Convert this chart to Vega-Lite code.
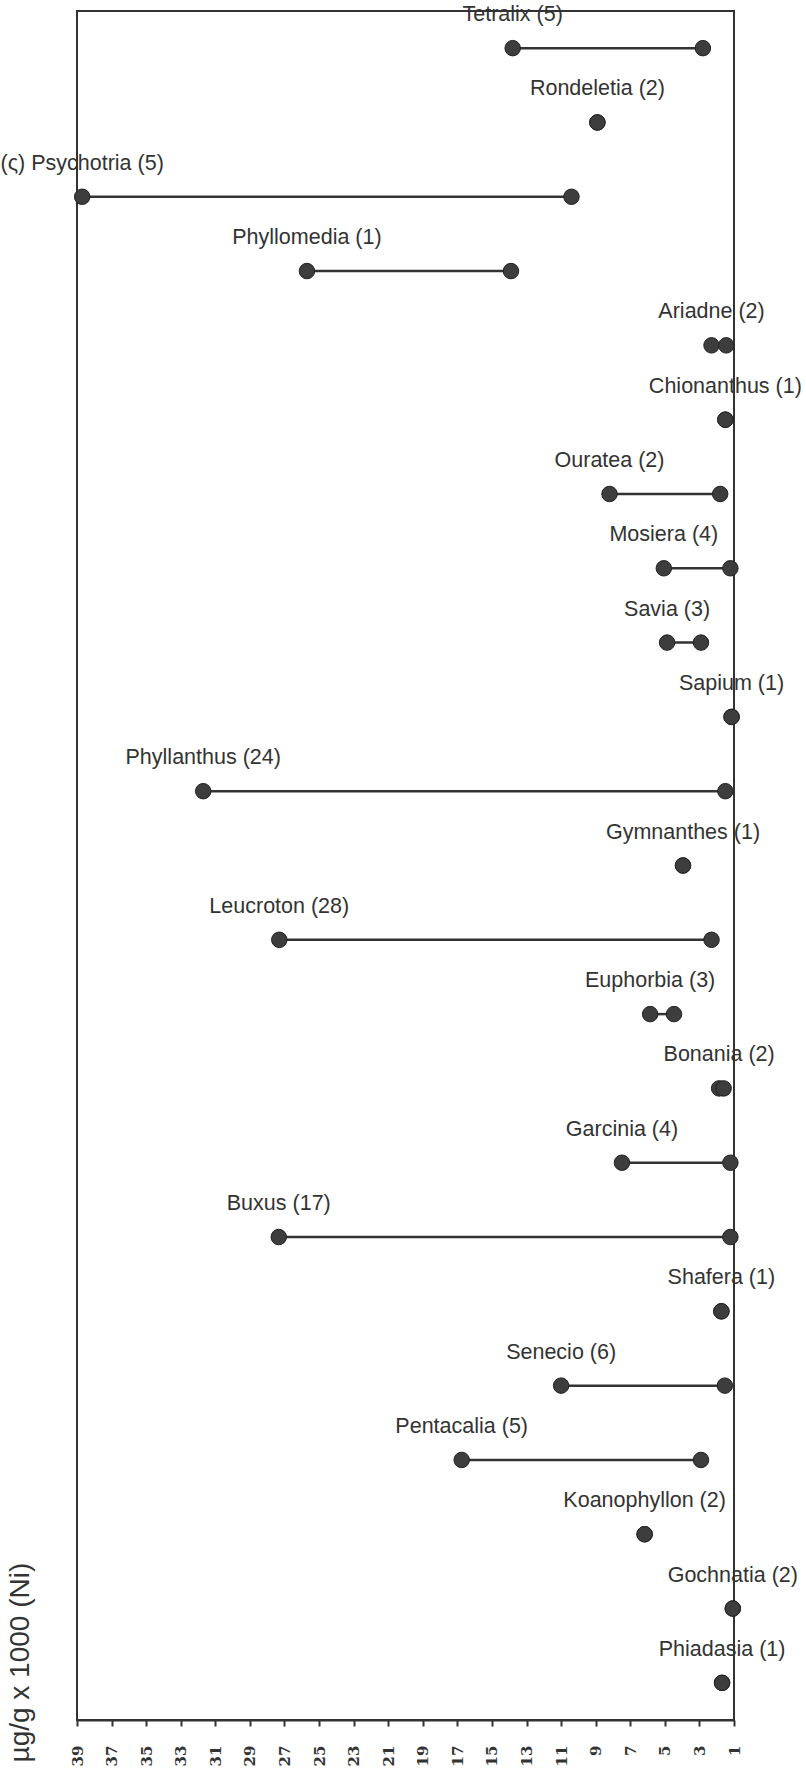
{
  "$schema": "https://vega.github.io/schema/vega-lite/v6.json",
  "width": 657,
  "height": 1709,
  "autosize": {"type": "none"},
  "padding": {"left": 77, "top": 11, "right": 72, "bottom": 49},
  "background": "white",
  "config": {
    "view": {"stroke": "#333333", "strokeWidth": 2},
    "axis": {"labelOverlap": false},
    "axisX": {"labelOverlap": false, "labelBound": false}
  },
  "data": {
    "values": [
      {"label": "Tetralix (5)", "hi": 13.8, "lo": 2.8},
      {"label": "Rondeletia (2)", "hi": 8.9, "lo": 8.9},
      {"label": "(ς) Psychotria (5)", "hi": 38.7, "lo": 10.4},
      {"label": "Phyllomedia (1)", "hi": 25.7, "lo": 13.9},
      {"label": "Ariadne (2)", "hi": 2.3, "lo": 1.45},
      {"label": "Chionanthus (1)", "hi": 1.5, "lo": 1.5},
      {"label": "Ouratea (2)", "hi": 8.2, "lo": 1.8},
      {"label": "Mosiera (4)", "hi": 5.06, "lo": 1.21},
      {"label": "Savia (3)", "hi": 4.87, "lo": 2.91},
      {"label": "Sapium (1)", "hi": 1.14, "lo": 1.14},
      {"label": "Phyllanthus (24)", "hi": 31.7, "lo": 1.5},
      {"label": "Gymnanthes (1)", "hi": 3.95, "lo": 3.95},
      {"label": "Leucroton (28)", "hi": 27.3, "lo": 2.3},
      {"label": "Euphorbia (3)", "hi": 5.85, "lo": 4.47},
      {"label": "Bonania (2)", "hi": 1.86, "lo": 1.6},
      {"label": "Garcinia (4)", "hi": 7.48, "lo": 1.21},
      {"label": "Buxus (17)", "hi": 27.33, "lo": 1.21},
      {"label": "Shafera (1)", "hi": 1.73, "lo": 1.73},
      {"label": "Senecio (6)", "hi": 11.0, "lo": 1.53},
      {"label": "Pentacalia (5)", "hi": 16.75, "lo": 2.91},
      {"label": "Koanophyllon (2)", "hi": 6.17, "lo": 6.17},
      {"label": "Gochnatia (2)", "hi": 1.07, "lo": 1.07},
      {"label": "Phiadasia (1)", "hi": 1.69, "lo": 1.69}
    ]
  },
  "encoding": {
    "y": {
      "field": "label",
      "type": "nominal",
      "sort": null,
      "scale": {"type": "point", "padding": 0.5},
      "axis": {
        "domain": false,
        "ticks": false,
        "labels": false,
        "grid": false,
        "title": "µg/g x 1000 (Ni)",
        "titleAngle": 270,
        "titleX": -57,
        "titleY": 1751,
        "titleAlign": "left",
        "titleBaseline": "middle",
        "titleFont": "Liberation Sans",
        "titleFontSize": 28,
        "titleFontWeight": "normal",
        "titleColor": "#333333"
      }
    },
    "x": {
      "field": "hi",
      "type": "quantitative",
      "scale": {"domain": [1, 39], "reverse": true, "nice": false, "zero": false},
      "axis": {
        "title": null,
        "values": [39, 37, 35, 33, 31, 29, 27, 25, 23, 21, 19, 17, 15, 13, 11, 9, 7, 5, 3, 1],
        "labelOverlap": false,
        "grid": false,
        "domainColor": "#333333",
        "domainWidth": 2,
        "tickColor": "#333333",
        "tickWidth": 2,
        "tickSize": 6,
        "labelAngle": 270,
        "labelAlign": "right",
        "labelBaseline": "middle",
        "labelPadding": 19,
        "labelFont": "DejaVu Serif",
        "labelFontWeight": "bold",
        "labelFontSize": 15,
        "labelColor": "#333333"
      }
    }
  },
  "layer": [
    {
      "mark": {"type": "rule", "color": "#333333", "strokeWidth": 2.5},
      "encoding": {"x2": {"field": "lo"}}
    },
    {
      "mark": {"type": "circle", "size": 240, "color": "#3d3d3d", "opacity": 1, "stroke": "#222222", "strokeWidth": 1},
      "encoding": {}
    },
    {
      "mark": {"type": "circle", "size": 240, "color": "#3d3d3d", "opacity": 1, "stroke": "#222222", "strokeWidth": 1},
      "encoding": {"x": {"field": "lo", "type": "quantitative"}}
    },
    {
      "mark": {"type": "text", "dy": -33, "font": "Liberation Sans", "fontSize": 21.5, "color": "#333333", "align": "center", "baseline": "middle"},
      "encoding": {"text": {"field": "label"}}
    }
  ]
}
